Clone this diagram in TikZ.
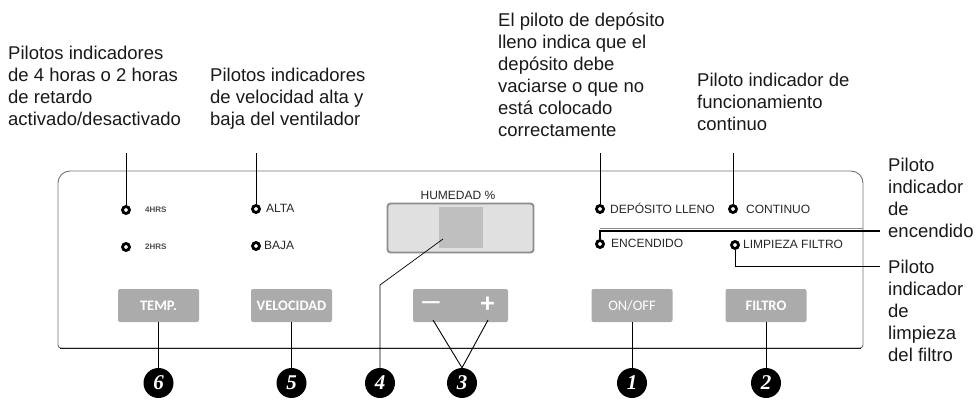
\documentclass[tikz,border=0pt]{standalone}
\usepackage{fontspec}
\setmainfont{Liberation Sans}
\newfontfamily\btnfont{Carlito}
\newfontfamily\numfont{Liberation Serif}
\newcommand\tstrut{\rule{0pt}{18pt}}
\begin{document}
\begin{tikzpicture}[x=1pt,y=-1pt,
  annot/.style={font=\fontsize{18.5}{22}\selectfont, align=left, anchor=north west, inner sep=0pt, text=black!90},
  led/.style={circle, draw=black, line width=2.8pt, fill=white, minimum size=7pt, inner sep=0pt},
  ledlabel/.style={font=\fontsize{12}{12}\selectfont, anchor=west, inner sep=0pt, text=black!85},
  hrslabel/.style={font=\bfseries\fontsize{8}{8}\selectfont, anchor=west, inner sep=0pt, text=black!70},
  btn/.style={fill=black!33, rounded corners=2pt, minimum width=81pt, minimum height=33pt, inner sep=0pt, text=white, font=\btnfont\bfseries\fontsize{14.5}{14.5}\selectfont},
  marker/.style={circle, fill=black, minimum size=30pt, inner sep=0pt, text=white, font=\numfont\bfseries\itshape\fontsize{21}{21}\selectfont},
  leader/.style={draw=black, line width=0.9pt},
  panelline/.style={draw=black!55, line width=0.9pt}
]
\useasboundingbox (0,0) rectangle (978,401);

% panel
\draw[panelline, rounded corners=12pt] (58,300) -- (58,171) -- (863,171) -- (863,300);
\draw[panelline, rounded corners=3pt] (863,300) -- (863,348) -- (58,348) -- (58,300);
\draw[black!90, line width=1pt] (60,348) -- (861,348);
\draw[black!45, line width=0.9pt] (600,228.5) -- (863,228.5);

% annotations
\node[annot] (b1) at (8,41) {\tstrut Pilotos indicadores\\de 4 horas o 2 horas\\de retardo\\activado/desactivado};
\node[annot] (b2) at (210,63) {\tstrut Pilotos indicadores\\de velocidad alta y\\baja del ventilador};
\node[annot] (b3) at (498,8) {\tstrut El piloto de depósito\\lleno indica que el\\depósito debe\\vaciarse o que no\\está colocado\\correctamente};
\node[annot] (b4) at (697,68) {\tstrut Piloto indicador de\\funcionamiento\\continuo};
\node[annot] (b5) at (888,153) {\tstrut Piloto\\indicador\\de\\encendido};
\node[annot] (b6) at (888,255.5) {\tstrut Piloto\\indicador\\de\\limpieza\\del filtro};

% LEDs
\node[led] (l4) at (126,210) {};
\node[led] (l2) at (126,247) {};
\node[led] (alta) at (256,209) {};
\node[led] (baja) at (256,246) {};
\node[led] (dep) at (600,209) {};
\node[led] (enc) at (600,244) {};
\node[led] (cont) at (733,209) {};
\node[led] (limp) at (735,245) {};

\node[hrslabel] (t4hrs) at (145,210) {4HRS};
\node[hrslabel] (t2hrs) at (145,247) {2HRS};
\node[ledlabel] (talta) at (266,208) {ALTA};
\node[ledlabel] (tbaja) at (264,245.5) {BAJA};
\node[ledlabel] (tdep) at (610,208.5) {DEPÓSITO LLENO};
\node[ledlabel] (tenc) at (611,243.5) {ENCENDIDO};
\node[ledlabel] (tcont) at (746,209) {CONTINUO};
\node[ledlabel] (tlimp) at (743,244.5) {LIMPIEZA FILTRO};

% humidity display
\node[ledlabel, anchor=center] (thum) at (458,195) {HUMEDAD \%};
\node[draw=black!45, fill=black!12, line width=1.8pt, rounded corners=3pt, minimum width=146pt, minimum height=49pt, inner sep=0pt] (hum) at (460.5,228) {};
\node[fill=black!25, minimum width=44pt, minimum height=41pt, inner sep=0pt] (humin) at (461,227.5) {};

% buttons
\node[btn] (temp) at (158.5,305.5) {TEMP.};
\node[btn] (vel) at (291.5,305.5) {VELOCIDAD};
\node[btn, minimum width=95pt] (pm) at (460.5,305.5) {};
\node[text=white, inner sep=0pt, font=\btnfont\bfseries\fontsize{24}{24}\selectfont] (minus) at (431,305.5) {—};
\node[text=white, inner sep=0pt, font=\btnfont\bfseries\fontsize{28}{28}\selectfont] (plus) at (487.5,305) {+};
\node[btn, font=\btnfont\fontsize{14.5}{14.5}\selectfont] (onoff) at (632,305.5) {ON/OFF};
\node[btn] (filtro) at (766,305.5) {FILTRO};

% markers
\node[marker] (m6) at (158.5,383) {6};
\node[marker] (m5) at (291.5,383) {5};
\node[marker] (m4) at (380,383) {4};
\node[marker] (m3) at (462,383) {3};
\node[marker] (m1) at (632,383) {1};
\node[marker] (m2) at (766,383) {2};

% coordinates for free leader ends
\coordinate (t4top) at (126,153);
\coordinate (taltatop) at (256,153);
\coordinate (tdeptop) at (600,153);
\coordinate (tconttop) at (733,153);
\coordinate (encend) at (880,231);
\coordinate (limpend) at (880,266);
\coordinate (hdot) at (443,239);
\coordinate (hbend) at (380,285);
\coordinate (pmL) at (433,320);
\coordinate (pmR) at (488,320);

% leaders
\draw[leader] (t4top) -- (l4.north);
\draw[leader] (taltatop) -- (alta.north);
\draw[leader] (tdeptop) -- (dep.north);
\draw[leader] (tconttop) -- (cont.north);
\draw[leader, line width=1.2pt] (enc.north) |- (encend);
\draw[leader] (limp.south) |- (limpend);
\draw[leader, line width=0.7pt] (hdot) -- (hbend) -- (m4.north);
\draw[leader] (pmL) -- (m3.north) -- (pmR);
\draw[leader] (temp.south) -- (m6.north);
\draw[leader] (vel.south) -- (m5.north);
\draw[leader] (onoff.south) -- (m1.north);
\draw[leader] (filtro.south) -- (m2.north);
\end{tikzpicture}
\end{document}
